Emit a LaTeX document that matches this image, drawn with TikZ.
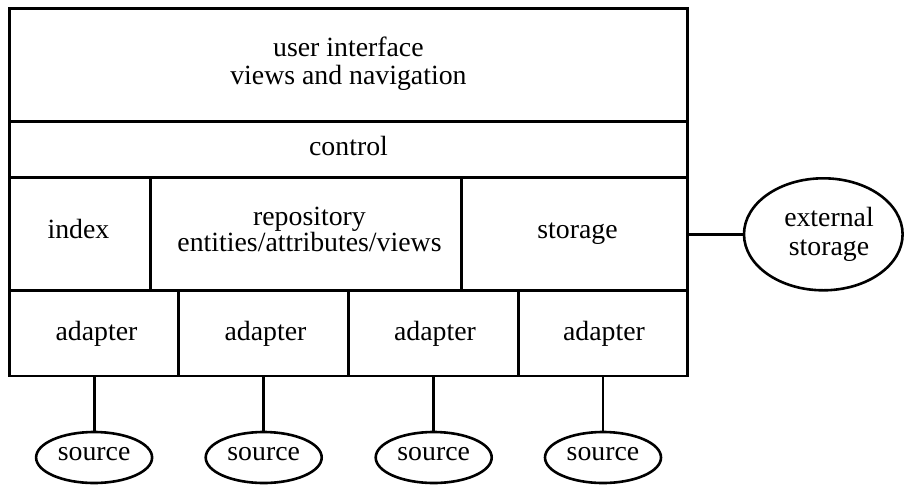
\documentclass[tikz,border=0pt]{standalone}
\usepackage{fontspec}
\setmainfont{Liberation Serif}
\usetikzlibrary{shapes.geometric}
\begin{document}
\begin{tikzpicture}[x=1pt,y=-1pt,
  cell/.style={draw=black,line width=2.8pt,rectangle,inner sep=0pt,fill=none},
  oval/.style={draw=black,line width=2.6pt,ellipse,inner sep=0pt},
  lbl/.style={anchor=base,inner sep=0pt,font=\fontsize{27.8}{27.5}\selectfont},
  link/.style={draw=black,line width=2.8pt}]
\useasboundingbox (0,0) rectangle (904,485);
% cells
\node[cell,minimum width=677.8pt,minimum height=112.6pt] (ui) at (348.4,65.0) {};
\node[cell,minimum width=677.8pt,minimum height=56pt] (ctrl) at (348.4,149.3) {};
\node[cell,minimum width=141.2pt,minimum height=113.4pt] (idx) at (80.1,234.0) {};
\node[cell,minimum width=310.6pt,minimum height=113.4pt] (repo) at (306.0,234.0) {};
\node[cell,minimum width=226pt,minimum height=113.4pt] (stor) at (574.3,234.0) {};
\node[cell,minimum width=169.2pt,minimum height=85.3pt] (ad1) at (94.1,333.35) {};
\node[cell,minimum width=170pt,minimum height=85.3pt] (ad2) at (263.7,333.35) {};
\node[cell,minimum width=170pt,minimum height=85.3pt] (ad3) at (433.7,333.35) {};
\node[cell,minimum width=168.6pt,minimum height=85.3pt] (ad4) at (603.0,333.35) {};
% texts
\node[lbl] (tui1) at (348.4,56) {user interface};
\node[lbl] (tui2) at (348.4,84) {views and navigation};
\node[lbl] (tctrl) at (348.5,155) {control};
\node[lbl] (tidx) at (78.5,238.8) {index};
\node[lbl] (trepo1) at (309.5,225) {repository};
\node[lbl] (trepo2) at (309.5,251.5) {entities/attributes/views};
\node[lbl] (tstor) at (577.5,238.3) {storage};
\node[lbl] (tad1) at (96.5,340) {adapter};
\node[lbl] (tad2) at (265.5,340) {adapter};
\node[lbl] (tad3) at (435,340) {adapter};
\node[lbl] (tad4) at (604,340) {adapter};
% external storage
\node[oval,minimum width=158.6pt,minimum height=112pt] (ext) at (823.3,234.3) {};
\node[lbl] (text1) at (829,226.7) {external};
\node[lbl] (text2) at (829,255) {storage};
\draw[link] (stor.east |- ext.west) -- (ext.west);
% sources
\node[oval,minimum width=116pt,minimum height=51pt] (s1) at (94.1,457.5) {};
\node[oval,minimum width=116pt,minimum height=51pt] (s2) at (263.7,457.5) {};
\node[oval,minimum width=116pt,minimum height=51pt] (s3) at (433.7,457.5) {};
\node[oval,minimum width=116pt,minimum height=51pt] (s4) at (603.0,457.5) {};
\node[lbl] (ts1) at (94.1,460) {source};
\node[lbl] (ts2) at (263.7,460) {source};
\node[lbl] (ts3) at (433.7,460) {source};
\node[lbl] (ts4) at (603.0,460) {source};
\draw[link] (ad1.south) -- (s1.north);
\draw[link] (ad2.south) -- (s2.north);
\draw[link] (ad3.south) -- (s3.north);
\draw[link] (ad4.south) -- (s4.north);
\end{tikzpicture}
\end{document}
